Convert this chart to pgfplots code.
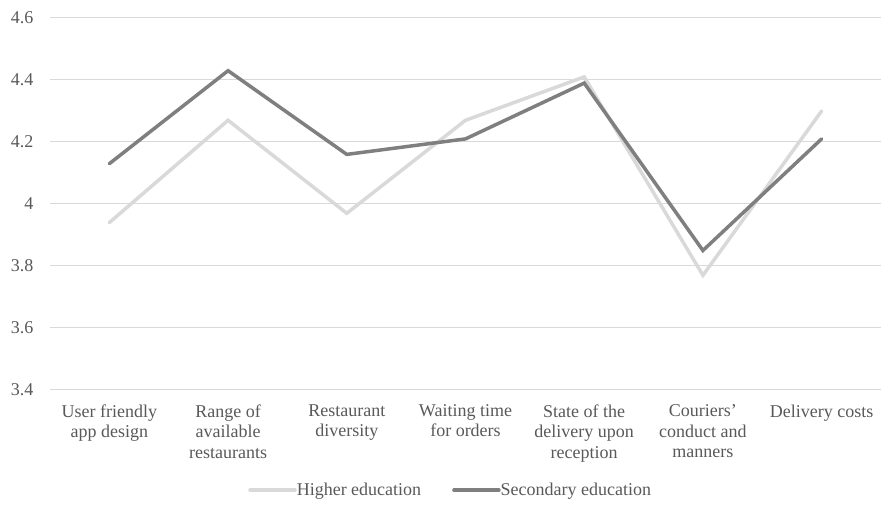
\documentclass[border=0pt]{standalone}
\usepackage{fontspec}
\setmainfont{Liberation Serif}
\usepackage{pgfplots}
\pgfplotsset{compat=1.18}

\definecolor{higher}{HTML}{D9D9D9}
\definecolor{secondary}{HTML}{7F7F7F}
\definecolor{gridgray}{HTML}{D9D9D9}
\definecolor{labelgray}{HTML}{595959}

\begin{document}
\begin{tikzpicture}
\useasboundingbox (-50pt,-115pt) rectangle (831pt,390pt);
\begin{axis}[
    scale only axis,
    width=831pt, height=372pt,
    xmin=-0.5, xmax=6.5,
    ymin=3.4, ymax=4.6,
    ytick={3.4,3.6,3.8,4,4.2,4.4,4.6},
    xtick={0,...,6},
    xticklabels={
        {User friendly\\app design},
        {Range of\\available\\restaurants},
        {Restaurant\\diversity},
        {Waiting time\\for orders},
        {State of the\\delivery upon\\reception},
        {Couriers’\\conduct and\\manners},
        {Delivery costs}},
    ymajorgrids,
    grid style={gridgray, line width=1pt},
    axis line style={draw=none},
    major tick style={draw=none},
    tick label style={font=\fontsize{18}{20.5}\selectfont, text=labelgray},
    xticklabel style={align=center, yshift=-11pt},
    yticklabel style={xshift=-13pt},
    /pgf/number format/assume math mode=true,
    clip=false,
    legend columns=2,
    legend style={
        at={(0.481,-0.269)}, anchor=center,
        draw=none, fill=none,
        font=\fontsize{18}{21}\selectfont, text=labelgray,
        /tikz/every even column/.append style={column sep=31pt},
        nodes={inner sep=0pt},
    },
    legend image code/.code={\draw[#1] (0pt,0pt) -- (45pt,0pt);},
]
\addplot[higher, line width=3.5pt, line cap=round] coordinates {
    (0,3.94) (1,4.27) (2,3.97) (3,4.27) (4,4.41) (5,3.77) (6,4.30)
};
\addlegendentry{Higher education}
\addplot[secondary, line width=3.5pt, line cap=round] coordinates {
    (0,4.13) (1,4.43) (2,4.16) (3,4.21) (4,4.39) (5,3.85) (6,4.21)
};
\addlegendentry{Secondary education}
\end{axis}
\end{tikzpicture}
\end{document}
